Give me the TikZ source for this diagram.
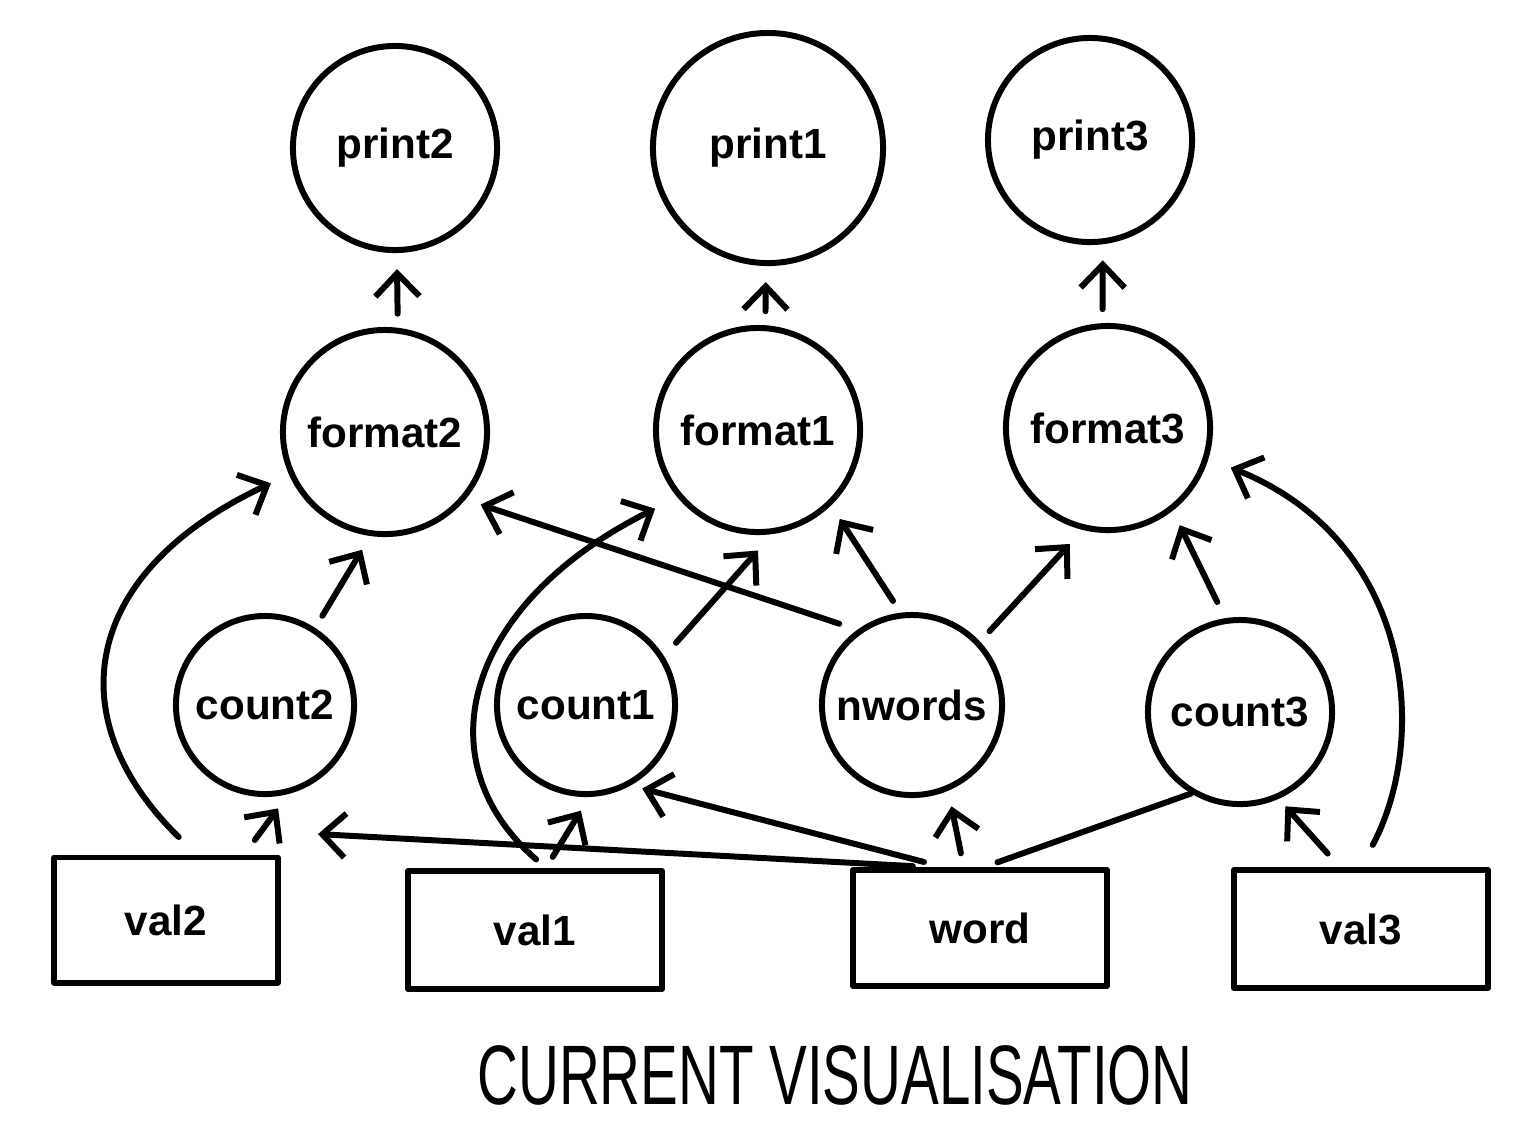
\documentclass[tikz,border=0pt]{standalone}
\usepackage{fontspec}
\setmainfont{Liberation Sans}
\usetikzlibrary{arrows.meta}
\begin{document}
\begin{tikzpicture}[
  x=0.01cm, y=-0.01cm,
  line width=1.7pt, line cap=round, line join=round,
  font=\fontsize{12}{14}\selectfont\bfseries,
  bnode/.style={draw, circle, minimum size=2.04cm, inner sep=0pt},
  snode/.style={draw, circle, minimum size=1.78cm, inner sep=0pt},
  vbox/.style={draw, minimum width=2.54cm, minimum height=1.18cm},
  arr/.style={-{Straight Barb[length=2.3mm,width=4.4mm]}, shorten <=0.14cm, shorten >=0.16cm},
  link/.style={shorten <=0.14cm}
]
  \useasboundingbox (0,0) rectangle (1531,1138);
  % nodes
  \node[bnode] (p2) at (395,148) {print2};
  \node[bnode, minimum size=2.3cm] (p1) at (768,148) {print1};
  \node[bnode] (p3) at (1090,140) {print3};
  \node[bnode] (f2) at (385,432) {format2};
  \node[bnode] (f1) at (758,430) {format1};
  \node[bnode] (f3) at (1108,428) {format3};
  \node[snode] (c2) at (265,705) {count2};
  \node[snode] (c1) at (586,705) {count1};
  \node[snode, minimum size=1.8cm] (nw) at (912,705) {nwords};
  \node[snode, minimum size=1.84cm] (c3) at (1240,712) {count3};
  \node[vbox, minimum width=2.23cm, minimum height=1.25cm] (v2) at (166,920) {val2};
  \node[vbox] (v1) at (535,930) {val1};
  \node[vbox, minimum height=1.16cm] (w) at (980,928) {word};
  \node[vbox] (v3) at (1361,929) {val3};
  \node (title) at (835,1075) {\fontsize{24}{28}\selectfont\mdseries\scalebox{0.67}[1]{CURRENT VISUALISATION}};
  % arrows
  \draw[arr] (f2.83) -- (p2.-89);
  \draw[arr] (f1.86) -- (p1.-91);
  \draw[arr] (f3.93) -- (p3.-83);
  \draw[arr] (c2.57) -- (f2.-98);
  \draw[arr, shorten <=0.25cm, shorten >=0.2cm] (v2.65) .. controls +(-140,-137) and +(-207,97) .. (f2.204);
  \draw[arr, shorten <=0.18cm, shorten >=0.18cm] (v2.40) -- (c2.-75);
  \draw[arr, shorten <=0.18cm, shorten >=0.22cm] (c1.32) -- (f1.-82);
  \draw[arr, shorten <=0.13cm, shorten >=0.25cm] (v1.80) .. controls +(-126,-110) and +(-209,104) .. (f1.220);
  \draw[arr, shorten <=0.13cm] (v1.80) -- (c1.-88);
  \draw[arr, shorten <=0.19cm] (nw.126) -- (f2.-40);
  \draw[arr] (nw.97) -- (f1.-46);
  \draw[arr, shorten >=0.19cm] (nw.43) -- (f3.-104);
  \draw[arr, shorten <=0.16cm, shorten >=0pt] (w.130) -- ([shift={(53,37)}]c2.south);
  \draw[arr, shorten <=0.2cm, shorten >=0.12cm] (w.121) -- (c1.-61);
  \draw[arr] (w.105) -- (nw.-67);
  \draw[link] (w.86) -- (c3.-121);
  \draw[arr, shorten <=0.18cm] (c3.99) -- (f3.-52);
  \draw[arr, shorten <=0.18cm, shorten >=0.1cm] (v3.109) -- (c3.-66);
  \draw[arr, shorten <=0.25cm, shorten >=0.24cm] (v3.90) .. controls +(69,-130) and +(204,82) .. (f3.-17);
\end{tikzpicture}
\end{document}
